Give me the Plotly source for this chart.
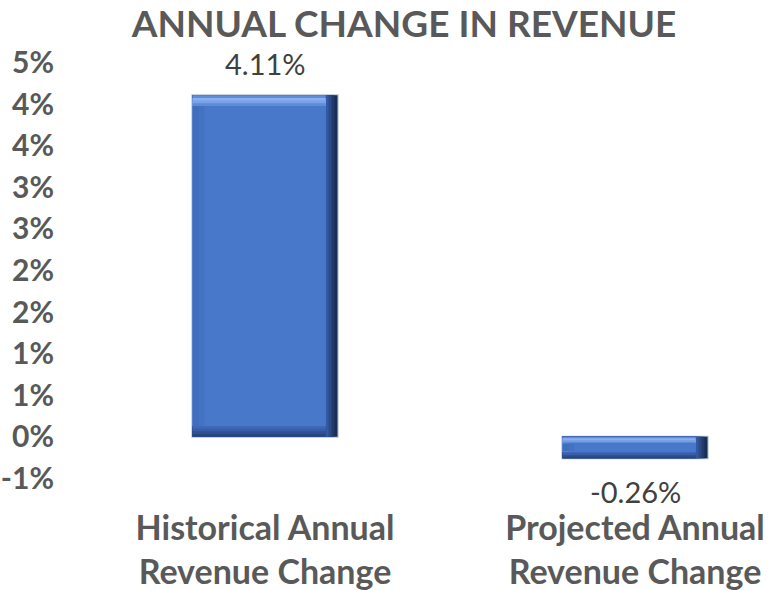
import plotly.graph_objects as go

categories = ["Historical Annual<br>Revenue Change", "Projected Annual<br>Revenue Change"]
values = [4.11, -0.26]
value_labels = ["4.11%", "-0.26%"]
tick_vals = [-0.5, 0.0, 0.5, 1.0, 1.5, 2.0, 2.5, 3.0, 3.5, 4.0, 4.5]
tick_text = ["-1%", "0%", "1%", "1%", "2%", "2%", "3%", "3%", "4%", "4%", "5%"]

FONT = "Lato, 'Open Sans', sans-serif"
GRAY = "#595959"
W = 0.392          # bar width (category units)
BX = 0.032         # horizontal bevel (category units)

tops = [max(0, v) for v in values]
bots = [min(0, v) for v in values]
bys = [min(0.13, abs(v) / 3.2) for v in values]
n = len(values)

fig = go.Figure()

def rect(x0_off, x1_off, y0, y1, color):
    fig.add_trace(go.Bar(
        x=categories, y=[b - a for a, b in zip(y0, y1)], base=y0,
        width=[x1_off - x0_off] * n, offset=[x0_off] * n,
        marker=dict(color=color, line=dict(width=0)),
        hoverinfo="skip", showlegend=False, cliponaxis=False,
    ))

L, R = -W / 2, W / 2
EX, EY = 0.003, 0.012
# thin light outline
rect(L - EX, R + EX, [b - EY for b in bots], [t + EY for t in tops], "#B9C2D0")
right_cols = ["#1A2D52", "#22396A", "#2B4A88", "#3459A2"]
bottom_cols = ["#27467F", "#2F5296", "#385EA9", "#3F68B8"]
top_cols = ["#5F8CD9", "#88B0F0", "#79A2E8", "#5F8BD7"]
S = 4
for k in range(S):
    rect(L, R - k * BX / S, bots, tops, right_cols[k])
for k in range(S):
    rect(L, R - BX, [b + k * y / S for b, y in zip(bots, bys)], tops, bottom_cols[k])
for k in range(S):
    rect(L, R - BX, [b + y for b, y in zip(bots, bys)],
         [t - k * y / S for t, y in zip(tops, bys)], top_cols[k])
rect(L, R - BX, [b + y for b, y in zip(bots, bys)], [t - y for t, y in zip(tops, bys)], "#406DBC")
rect(L + BX * 0.5, R - BX, [b + y for b, y in zip(bots, bys)], [t - y for t, y in zip(tops, bys)], "#4472C2")
rect(L + BX, R - BX, [b + y for b, y in zip(bots, bys)], [t - y for t, y in zip(tops, bys)], "#4778C9")

for c, v, lab in zip(categories, values, value_labels):
    fig.add_annotation(
        x=c, y=v, text=lab, showarrow=False, yanchor="middle",
        yshift=32 if v >= 0 else -33,
        font=dict(family=FONT, size=29, color="#404040"),
    )

fig.update_layout(
    width=782, height=590,
    paper_bgcolor="white", plot_bgcolor="white",
    barmode="overlay",
    margin=dict(l=55, r=0, t=42, b=91, autoexpand=False),
    title=dict(
        text="<b>ANNUAL CHANGE IN REVENUE</b>",
        font=dict(family=FONT, size=37, color=GRAY),
        x=404 / 782, xanchor="center", xref="container",
        y=1 - 24 / 590, yanchor="middle", yref="container",
    ),
    xaxis=dict(
        range=[-(265 - 55) / 370, (782 - 265) / 370], showgrid=False, zeroline=False,
        showline=False, ticks="", automargin=False, ticklabelstandoff=6,
        tickfont=dict(family=FONT, size=34, color=GRAY, weight="bold"),
    ),
    yaxis=dict(
        range=[-0.75, 4.75], tickvals=tick_vals, ticktext=tick_text,
        showgrid=False, zeroline=False, showline=False, ticks="", automargin=False,
        tickfont=dict(family=FONT, size=30, color=GRAY, weight="bold"),
    ),
)

fig.write_html("out.html", config={"displayModeBar": False},
               post_script="document.body.style.margin='0';")
